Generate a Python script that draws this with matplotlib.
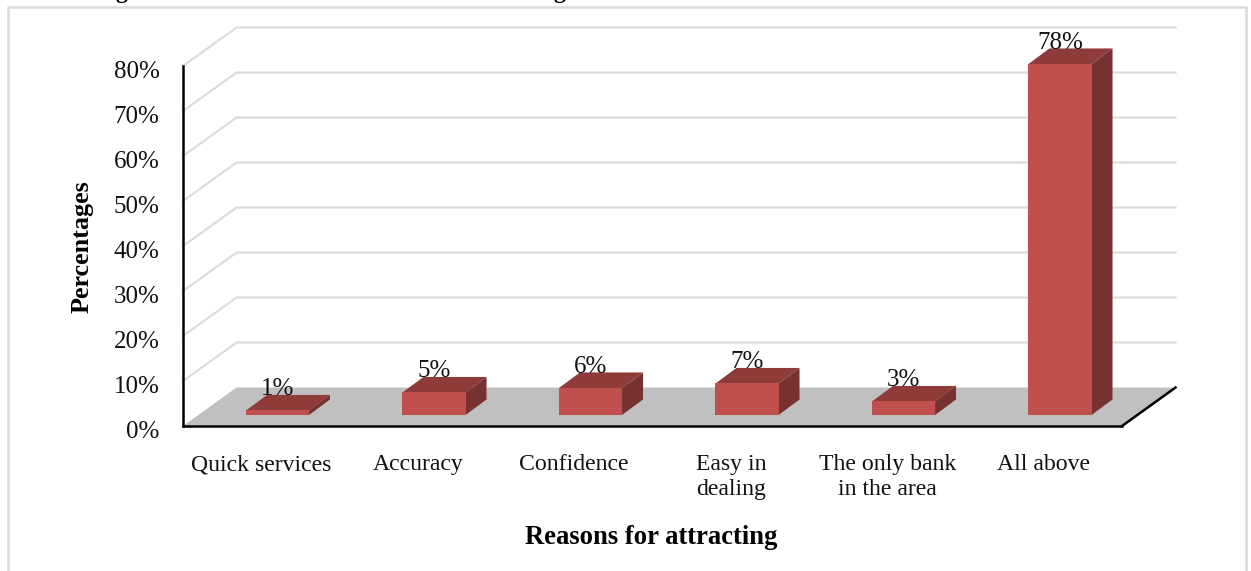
import matplotlib.pyplot as plt
from matplotlib.lines import Line2D
from matplotlib.patches import Polygon
from matplotlib.transforms import ScaledTranslation

plt.rcParams['font.family'] = ['Liberation Serif', 'DejaVu Serif']

categories = ['Quick services', 'Accuracy', 'Confidence', 'Easy in\ndealing',
              'The only bank\nin the area', 'All above']
percentages = [1, 5, 6, 7, 3, 78]
y_ticks = [0, 10, 20, 30, 40, 50, 60, 70, 80]

# depth of the fake 3D box, in axis units (categories, percent)
FLOOR_DX = 0.342
FLOOR_DY = 8.55
BAR_DX = 0.134
BAR_DY = 3.45
BAR_SHIFT_X = 0.104
BAR_SHIFT_Y = 2.45
BAR_WIDTH = 0.403

FRONT = '#C0504D'
TOP = '#8E3B39'
SIDE = '#773230'
GRID = '#DCDCDC'
FLOOR = '#C0C0C0'

W, H = 1251, 571
fig = plt.figure(figsize=(W / 100, H / 100), dpi=100, facecolor='white')
ax = fig.add_axes([183 / W, 1 - 426 / H, 939 / W, 360 / H])
ax.set_xlim(-0.5, 5.5)
ax.set_ylim(0, 80)
ax.patch.set_visible(False)

x_left, x_right = ax.get_xlim()

# walls: grid lines run back along the side wall, then across the back wall
for tick in y_ticks[1:]:
    ax.plot([x_left, x_left + FLOOR_DX, x_right + FLOOR_DX],
            [tick, tick + FLOOR_DY, tick + FLOOR_DY],
            color=GRID, lw=1.6, clip_on=False, zorder=1)

# floor
ax.add_patch(Polygon([(x_left, 0), (x_right, 0),
                      (x_right + FLOOR_DX, FLOOR_DY), (x_left + FLOOR_DX, FLOOR_DY)],
                     facecolor=FLOOR, edgecolor='none', clip_on=False, zorder=2))
ax.plot([x_right, x_right + FLOOR_DX], [0, FLOOR_DY], color='black', lw=1.8,
        clip_on=False, zorder=3)

# bars: front face plus top and side polygons
for i, value in enumerate(percentages):
    left = i - BAR_WIDTH / 2 + BAR_SHIFT_X
    right = left + BAR_WIDTH
    bottom = BAR_SHIFT_Y
    top = bottom + value
    ax.bar(left, value, width=BAR_WIDTH, bottom=bottom, align='edge',
           color=FRONT, clip_on=False, zorder=5)
    ax.add_patch(Polygon([(left, top), (right, top),
                          (right + BAR_DX, top + BAR_DY), (left + BAR_DX, top + BAR_DY)],
                         facecolor=TOP, edgecolor='none', clip_on=False, zorder=4))
    ax.add_patch(Polygon([(right, bottom), (right + BAR_DX, bottom + BAR_DY),
                          (right + BAR_DX, top + BAR_DY), (right, top)],
                         facecolor=SIDE, edgecolor='none', clip_on=False, zorder=4))
    ax.text(left + BAR_WIDTH / 2, top + 3.4, f'{value}%', ha='center', va='baseline',
            fontsize=18, color='#111111', clip_on=False, zorder=6)

for side in ['top', 'right']:
    ax.spines[side].set_visible(False)
for side in ['left', 'bottom']:
    ax.spines[side].set_linewidth(1.8)
    ax.spines[side].set_zorder(7)

ax.set_xticks(range(len(categories)), categories, fontsize=17.1, color='#111111')
ax.set_yticks(y_ticks, [f'{t}%' for t in y_ticks], fontsize=18, color='#111111')
ax.tick_params(axis='both', length=0)
ax.tick_params(axis='x', pad=20.5)
ax.tick_params(axis='y', pad=17)
for label in ax.get_xticklabels():
    label.set_linespacing(1.25)
# y labels sit a little below their grid line
nudge = ScaledTranslation(0, -4.2 / 72, fig.dpi_scale_trans)
for label in ax.get_yticklabels():
    label.set_verticalalignment('center')
    label.set_transform(label.get_transform() + nudge)

ax.set_xlabel('Reasons for attracting', fontsize=19.2, fontweight='bold')
ax.xaxis.set_label_coords((651 - 183) / 939, -(538 - 426) / 360)
ax.xaxis.label.set_verticalalignment('center')
ax.set_ylabel('Percentages', fontsize=18.8, fontweight='bold')
ax.yaxis.set_label_coords((82 - 183) / 939, (426 - 247) / 360)
ax.yaxis.label.set_verticalalignment('center')

# outer frame, open at the bottom
frame_x = [8 / W, 8 / W, 1246 / W, 1246 / W]
frame_y = [0, 1 - 7 / H, 1 - 7 / H, 0]
fig.add_artist(Line2D(frame_x, frame_y, color='#DADADA', lw=1.8))

# descenders of the caption line running off the top edge
fig.text(121 / W, 1 + 2 / H, 'g', fontsize=17, fontweight='bold', ha='center', va='baseline')
fig.text(559 / W, 1 + 2 / H, 'g', fontsize=17, fontweight='bold', ha='center', va='baseline')

fig.savefig('out.png', dpi=100)
